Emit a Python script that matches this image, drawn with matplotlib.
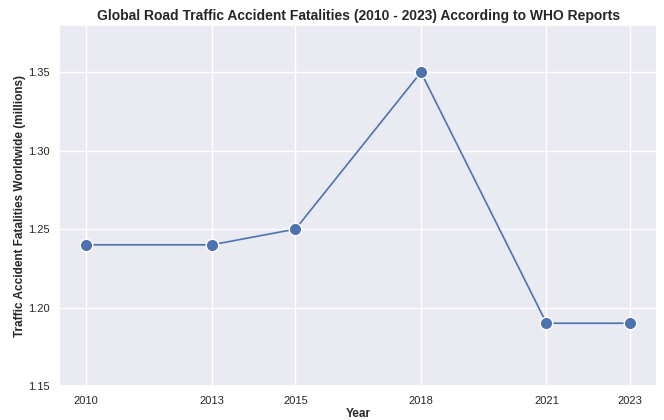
import matplotlib
matplotlib.use("Agg")
import matplotlib.pyplot as plt
import seaborn as sns

years = [2010, 2013, 2015, 2018, 2021, 2023]
fatalities = [1.24, 1.24, 1.25, 1.35, 1.19, 1.19]

sns.set_theme(style="darkgrid")
plt.rcParams['font.family'] = ['Arial', 'Liberation Sans', 'DejaVu Sans']

fig, ax = plt.subplots(figsize=(6.64, 4.2), dpi=100)
ax.plot(years, fatalities, color="#4c72b0", linewidth=1.2, marker="o",
        markersize=9, markeredgecolor="white", markeredgewidth=1)

ax.set_xticks(years)
ax.set_ylim(1.15, 1.38)
ax.set_yticks([1.15, 1.20, 1.25, 1.30, 1.35])
ax.tick_params(labelsize=8, length=0, pad=7)
ax.set_title("Global Road Traffic Accident Fatalities (2010 - 2023) According to WHO Reports",
             fontsize=10, fontweight="bold", pad=4)
ax.set_xlabel("Year", fontsize=8.5, fontweight="bold", labelpad=2)
ax.set_ylabel("Traffic Accident Fatalities Worldwide (millions)", fontsize=8.5,
              fontweight="bold", labelpad=1)

fig.subplots_adjust(left=0.089, right=0.99, top=0.94, bottom=0.081)
fig.savefig("out.png", dpi=100)
